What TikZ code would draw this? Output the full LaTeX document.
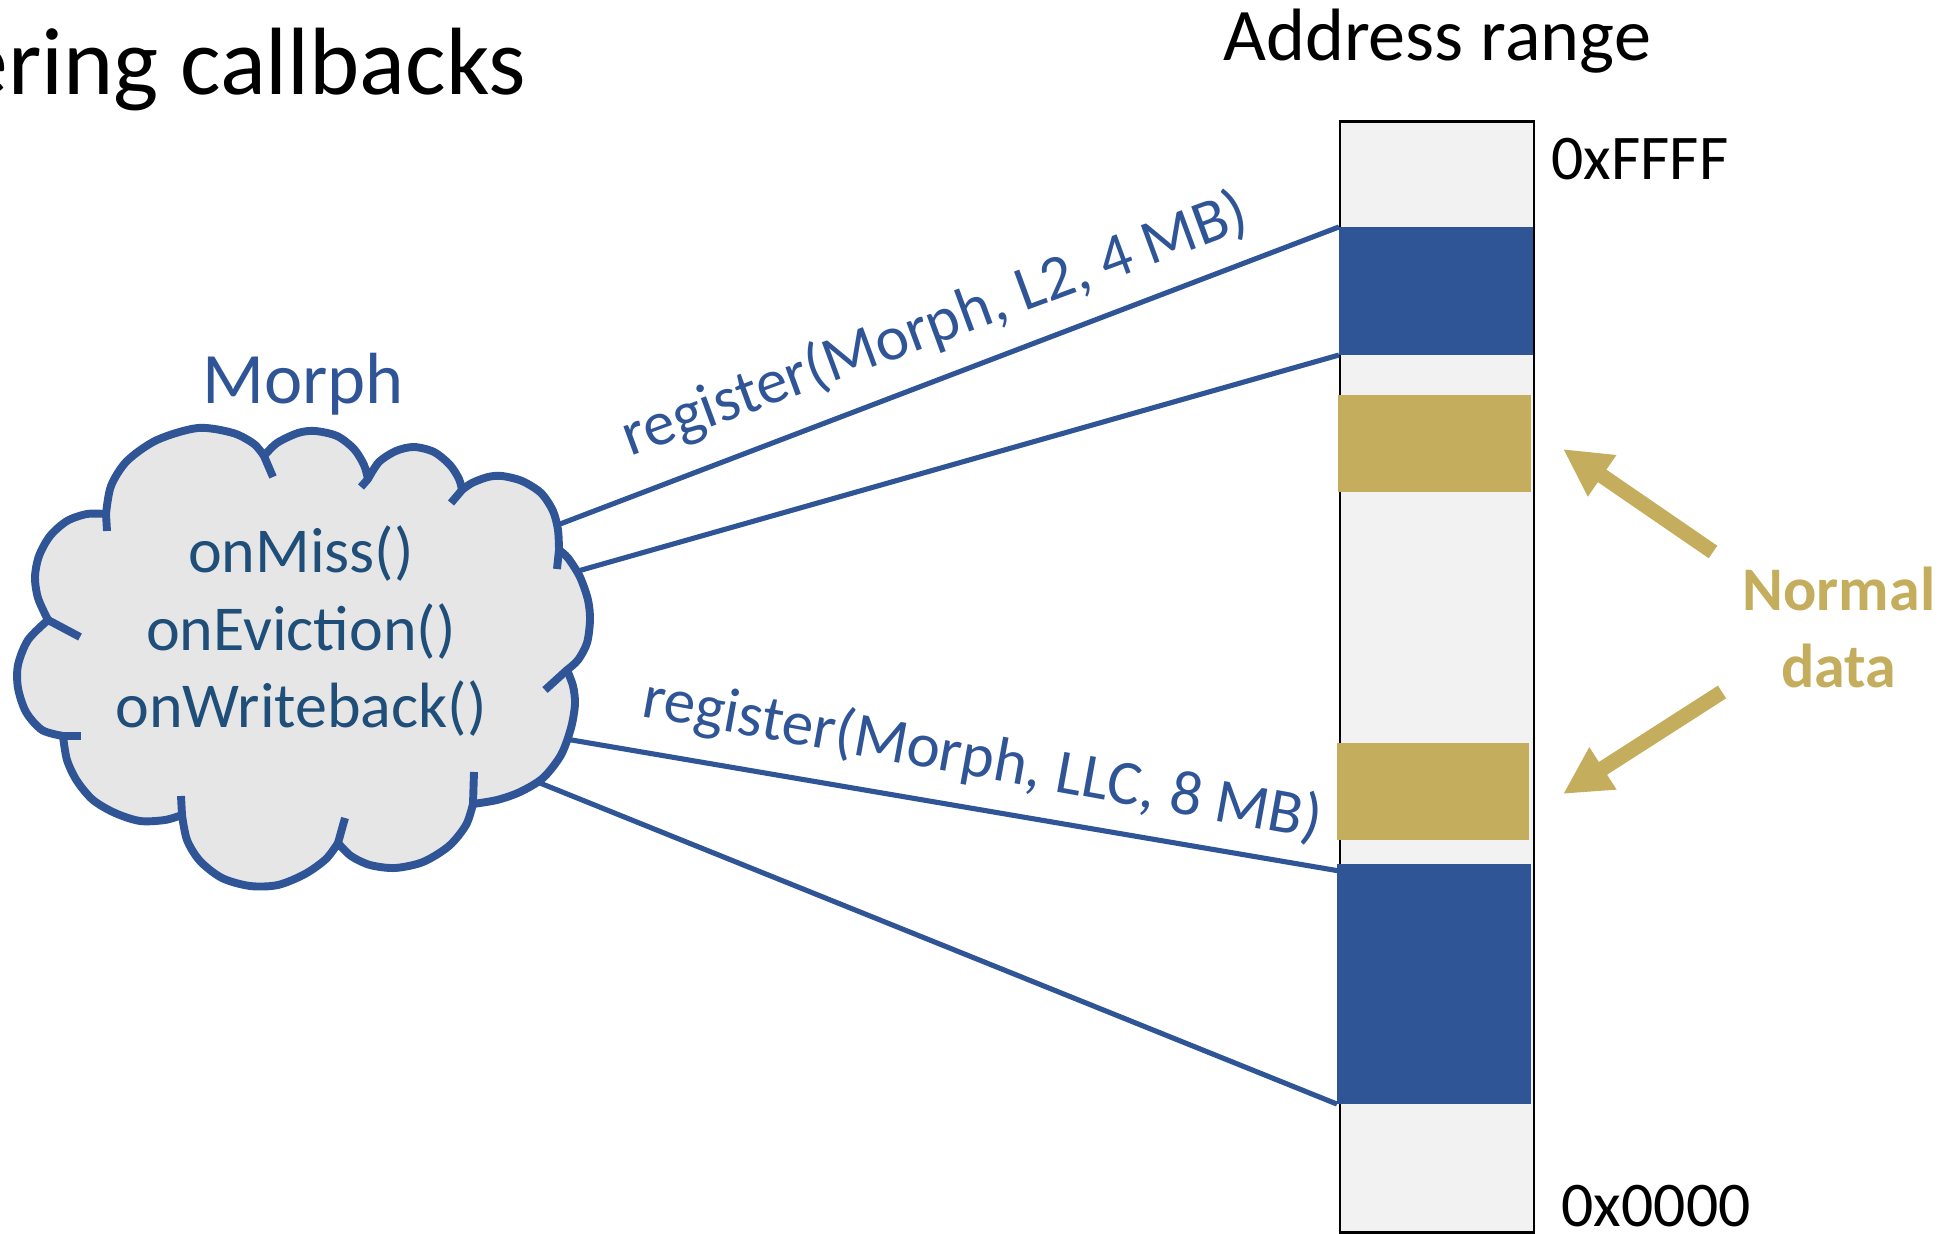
\documentclass[tikz,border=0pt]{standalone}
\usepackage{fontspec}
\setmainfont{Carlito}
\usetikzlibrary{arrows.meta,calc}

\definecolor{accblue}{HTML}{2F5597}
\definecolor{deepblue}{HTML}{1F4E79}
\definecolor{ochre}{HTML}{C4AD5C}
\definecolor{cloudgray}{HTML}{E6E6E6}
\definecolor{bargray}{HTML}{F2F2F2}

\tikzset{
  link/.style={draw=accblue, line width=1.45pt},
  cloudedge/.style={draw=accblue, line width=2.25pt, line join=round},
  nub/.style={draw=accblue, line width=2.25pt, line cap=butt},
  slab/.style={draw=none, inner sep=0pt, outer sep=0pt},
  pointer/.style={draw=ochre, fill=ochre, line width=4.3pt,
    -{Triangle[length=13.5pt,width=13.3pt]}},
  hexlabel/.style={inner sep=0pt, font=\fontsize{18.1pt}{21.5pt}\selectfont},
  reglabel/.style={inner sep=0pt, text=accblue, font=\fontsize{17.95pt}{21pt}\selectfont},
}

\begin{document}
\begin{tikzpicture}[x=0.01cm, y=-0.01cm]
\useasboundingbox (0,0) rectangle (1956,1234);
\clip (0,0) rectangle (1956,1234);
\fill[white] (0,0) rectangle (1956,1234);

% slide title, its first letters run off the left edge
\node[anchor=base east, inner sep=0pt, font=\fontsize{27.2pt}{32pt}\selectfont]
  (title) at (527,95) {ering callbacks};

% address range column
\node[anchor=base, inner sep=0pt, font=\fontsize{21.1pt}{25pt}\selectfont]
  (rangehdr) at (1437,61) {Address range};
\node[draw=black, line width=0.7pt, fill=bargray, minimum width=1.94cm,
  minimum height=11.10cm, inner sep=0pt, outer sep=0pt] (bar) at (1437,677) {};
\node[slab, fill=accblue, minimum width=1.94cm, minimum height=1.28cm] (l2) at (1436,291) {};
\node[slab, fill=ochre, minimum width=1.93cm, minimum height=0.97cm] (nd1) at (1434.5,443.5) {};
\node[slab, fill=ochre, minimum width=1.92cm, minimum height=0.97cm] (nd2) at (1433,791.5) {};
\node[slab, fill=accblue, minimum width=1.94cm, minimum height=2.40cm] (llc) at (1434,984) {};
\node[hexlabel, anchor=base west] (hi) at (1551,180) {0xFFFF};
\node[hexlabel, anchor=base west] (lo) at (1561,1227) {0x0000};

% registration links (start just inside the cloud, which is drawn over them)
\coordinate (cA) at (547,529);
\coordinate (cB) at (564,575);
\coordinate (cC) at (554,737);
\coordinate (cD) at (525,777);
\draw[link] (cA) -- (l2.north west);
\draw[link] (cB) -- (l2.south west);
\draw[link] (cC) -- ($(llc.north west)+(2,7)$);
\draw[link] (cD) -- (llc.south west);

% the Morph cloud, one smooth bump after another
\filldraw[cloudedge, fill=cloudgray]
  plot[smooth] coordinates {(106,514) (111,486) (127,461) (157,440) (198,428) (233,433) (254,444) (264,456)}
  -- plot[smooth] coordinates {(264,456) (277,443) (298,433) (315,431) (337,436) (354,449) (364,465) (368,479)}
  -- plot[smooth] coordinates {(368,479) (379,462) (396,451) (414,447) (434,452) (450,465) (459,479) (462,490)}
  -- plot[smooth] coordinates {(462,490) (472,483) (488,477) (502,476) (522,481) (541,493) (553,511) (558,530) (559,550)}
  -- plot[smooth] coordinates {(559,550) (568,558) (580,577) (588,600) (590,620) (587,643) (578,660) (567,670)}
  -- plot[smooth] coordinates {(567,670) (573,686) (575,704) (571,728) (561,755) (543,778) (520,792) (497,800) (473,804)}
  -- plot[smooth] coordinates {(473,804) (466,825) (449,846) (423,862) (395,868) (370,865) (351,856) (338,843)}
  -- plot[smooth] coordinates {(338,843) (326,859) (305,874) (278,885) (250,886) (222,878) (200,861) (187,840) (182,815)}
  -- plot[smooth] coordinates {(182,815) (165,820) (140,821) (115,813) (93,800) (77,781) (67,760) (63,736)}
  -- plot[smooth] coordinates {(63,736) (42,730) (26,712) (18,688) (18,665) (28,640) (48,620)}
  -- plot[smooth] coordinates {(48,620) (38,598) (35,577) (39,556) (50,536) (67,521) (87,514) (106,514)}
  -- cycle;

% inner nubs where the bumps meet
\draw[nub] (106,514) -- (107,531);
\draw[nub] (264,456) -- (273,477);
\draw[nub] (368,479) -- (361,487);
\draw[nub] (462,490) -- (451,503);
\draw[nub] (559,550) -- (557,569);
\draw[nub] (567,670) -- (545,690);
\draw[nub] (473,804) -- (474,772);
\draw[nub] (338,843) -- (345,818);
\draw[nub] (182,815) -- (181,796);
\draw[nub] (63,736) -- (81,736);
\draw[nub] (48,620) -- (80,637);

\node[anchor=base, inner sep=0pt, text=accblue, font=\fontsize{20.6pt}{24pt}\selectfont]
  (morph) at (303,404) {Morph};
\node[anchor=base, inner sep=0pt, text=deepblue, font=\fontsize{18.2pt}{21.9pt}\selectfont]
  (hooks) at (301,573) {\begin{tabular}[t]{@{}c@{}}onMiss()\\ onEviction()\\ onWriteback()\end{tabular}};

% link labels
\node[reglabel, anchor=base west, rotate=20.2] (regl2) at (630,457) {register(Morph, L2, 4 MB)};
\node[reglabel, anchor=base west, rotate=-10.3] (regllc) at (640,716) {register(Morph, LLC, 8 MB)};

% normal data callout
\node[anchor=base, inner sep=0pt, text=ochre, font=\bfseries\fontsize{17.64pt}{21.62pt}\selectfont]
  (normal) at (1839,611) {\begin{tabular}[t]{@{}c@{}}Normal\\ data\end{tabular}};
\coordinate (upTail) at (1713,552);
\coordinate (upTip) at (1563,449);
\coordinate (dnTail) at (1722,692);
\coordinate (dnTip) at (1563,794);
\draw[pointer] (upTail) -- (upTip);
\draw[pointer] (dnTail) -- (dnTip);
\end{tikzpicture}
\end{document}
